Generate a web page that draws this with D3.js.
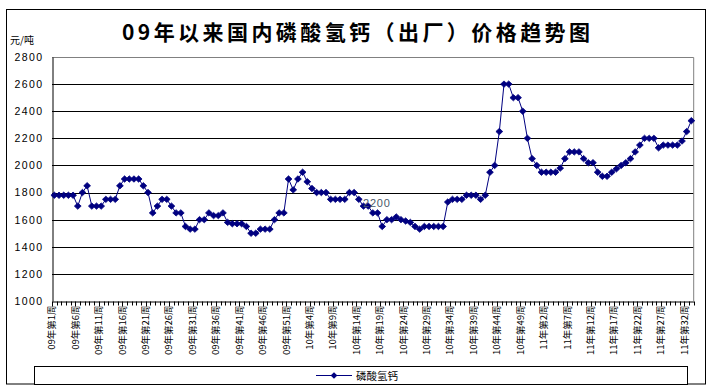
<!DOCTYPE html>
<html><head><meta charset="utf-8">
<script src="https://cdn.jsdelivr.net/npm/d3@7"></script>
<style>body{margin:0;background:#fff;}svg{display:block;}</style>
</head><body>
<svg id="c" width="713" height="390"></svg>
<script>
const title = "09年以来国内磷酸氢钙（出厂）价格趋势图";
const unitLabel = "元/吨";
const seriesName = "磷酸氢钙";
const yTicks = [1000,1200,1400,1600,1800,2000,2200,2400,2600,2800];
const tickLabels = ["09年第1周","09年第6周","09年第11周","09年第16周","09年第21周","09年第26周","09年第31周","09年第36周","09年第41周","09年第46周","09年第51周","10年第4周","10年第9周","10年第14周","10年第19周","10年第24周","10年第29周","10年第34周","10年第39周","10年第44周","10年第49周","11年第2周","11年第7周","11年第12周","11年第17周","11年第22周","11年第27周","11年第32周"];
const values = [
1780,1780,1780,1780,1780,1700,1800,1850,1700,1700,
1700,1750,1750,1750,1850,1900,1900,1900,1900,1850,
1800,1650,1700,1750,1750,1700,1650,1650,1550,1530,
1530,1600,1600,1650,1630,1630,1650,1580,1570,1570,
1570,1550,1500,1500,1530,1530,1530,1600,1650,1650,
1900,1820,1900,1950,1880,1830,1800,1800,1800,1750,
1750,1750,1750,1800,1800,1750,1700,1700,1650,1650,
1550,1600,1600,1620,1600,1590,1580,1550,1530,1550,
1550,1550,1550,1550,1730,1750,1750,1750,1780,1780,
1780,1750,1780,1950,2000,2250,2600,2600,2500,2500,
2400,2200,2050,2000,1950,1950,1950,1950,1980,2050,
2100,2100,2100,2050,2020,2020,1950,1920,1920,1950,
1975,2000,2020,2050,2100,2150,2200,2200,2200,2130,
2150,2150,2150,2150,2180,2250,2330];
const strayLabel = "2200";

const svg = d3.select("#c");
const L = 52, R = 693.7, T = 57, B = 301;
const x = d3.scaleBand().domain(d3.range(values.length)).range([L, R]).paddingInner(0).paddingOuter(0);
const bw = x.bandwidth();
const y = d3.scaleLinear().domain([1000, 2800]).range([B, T]);
const navy = "#000080";

// outer border
svg.append("rect").attr("x",6.5).attr("y",9.5).attr("width",699).attr("height",374.5)
  .attr("fill","#fff").attr("stroke","#000").attr("stroke-width",1);

// title
svg.append("text").attr("x",356).attr("y",40).attr("text-anchor","middle")
  .attr("font-family","'Noto Sans CJK SC', sans-serif").attr("font-weight","bold")
  .attr("font-size",21).attr("textLength",468).attr("lengthAdjust","spacing")
  .attr("fill","#000").text(title);

svg.append("text").attr("x",10).attr("y",44).attr("font-family","'Noto Sans CJK SC', sans-serif")
  .attr("font-size",10).attr("fill","#000").text(unitLabel);

// gridlines
svg.append("g").selectAll("line").data(yTicks.filter(v=>v>1000 && v<2800)).join("line")
  .attr("x1",L).attr("x2",R).attr("y1",d=>Math.round(y(d))+0.5).attr("y2",d=>Math.round(y(d))+0.5)
  .attr("stroke","#000").attr("stroke-width",1);

// plot border top/right
svg.append("path").attr("d",`M${L},${T+0.5}H${R}V${B}`).attr("fill","none").attr("stroke","#808080");

// y axis
const yAxis = d3.axisLeft(y).tickValues(yTicks).tickFormat(d3.format("d")).tickSize(0).tickPadding(9);
const gy = svg.append("g").attr("transform",`translate(${L+0.5},0)`).call(yAxis);
gy.select(".domain").attr("stroke","#000");
gy.selectAll("text").attr("font-family","'Liberation Sans', Arial, sans-serif").attr("font-size",10.5)
  .attr("letter-spacing","1.4px").attr("fill","#000");

// x axis
const xAxis = d3.axisBottom(x).tickSize(0).tickFormat("");
const gx = svg.append("g").attr("transform",`translate(0,${B+0.5})`).call(xAxis);
gx.select(".domain").attr("stroke","#000");
gx.selectAll(".tick").remove();
gx.selectAll("line.tk").data(d3.range(values.length+1)).join("line").attr("class","tk")
  .attr("x1",i=>Math.round(L + i*bw)+0.5).attr("x2",i=>Math.round(L + i*bw)+0.5)
  .attr("y1",0).attr("y2",i=>i%5===0?5:4).attr("stroke","#000");
gx.selectAll("text.lb").data(tickLabels).join("text").attr("class","lb")
  .attr("transform",(d,k)=>`translate(${x(k*5)},4) rotate(-90)`)
  .attr("text-anchor","end").attr("dy","0.35em")
  .attr("font-family","'Noto Sans CJK SC', sans-serif").attr("font-size",9.5).attr("fill","#000")
  .text(d=>d);

// line and markers
const cx = i => x(i) + bw/2;
svg.append("path").datum(values)
  .attr("d", d3.line().x((d,i)=>cx(i)).y(d=>y(d)))
  .attr("fill","none").attr("stroke",navy).attr("stroke-width",1);
const diamond = "M0,-3.2L3.4,0L0,3.2L-3.4,0Z";
svg.append("g").selectAll("path").data(values).join("path")
  .attr("transform",(d,i)=>`translate(${cx(i)},${y(d)})`).attr("d",diamond)
  .attr("fill",navy).attr("stroke",navy).attr("stroke-width",0.8);

// stray label
svg.append("text").attr("x",363).attr("y",207).attr("font-family","'Liberation Sans', Arial, sans-serif")
  .attr("font-size",11).attr("letter-spacing","0.8px").attr("fill","#4a5a6a").text(strayLabel);

// legend
svg.append("rect").attr("x",34.5).attr("y",366.5).attr("width",653).attr("height",18)
  .attr("fill","#fff").attr("stroke","#000");
svg.append("line").attr("x1",316).attr("x2",352).attr("y1",375.5).attr("y2",375.5).attr("stroke",navy);
svg.append("path").attr("transform","translate(334,375.5)").attr("d",diamond).attr("fill",navy);
svg.append("text").attr("x",356).attr("y",379.5).attr("font-family","'Noto Sans CJK SC', sans-serif")
  .attr("font-size",10.5).attr("fill","#000").text(seriesName);
</script>
</body></html>
